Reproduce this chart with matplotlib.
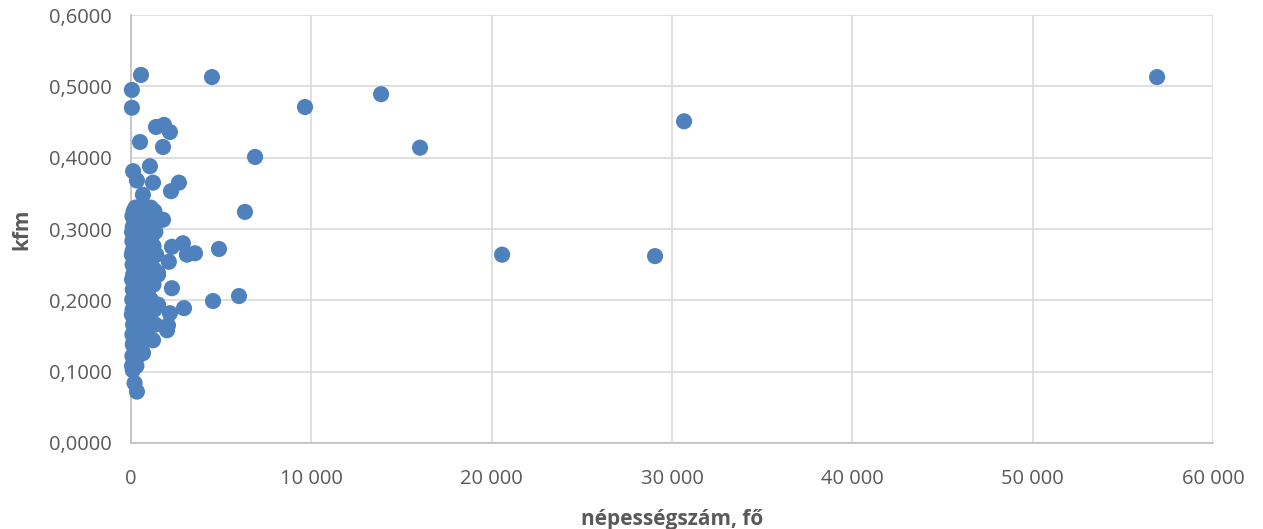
import matplotlib.pyplot as plt
from matplotlib.ticker import FuncFormatter

# népességszám (fő) és kfm értékek
pop = [
    555, 4490, 50, 50, 9650, 13870, 56900, 30670, 16030, 6880,
    500, 1390, 1830, 2160, 1775, 20580, 29060, 6320,
    120, 1050, 2660, 2220, 330, 1220, 660, 1775,
    2270, 2880, 3100, 3550, 4880, 2100, 1500, 2270, 5990, 4550,
    2940, 2160, 2050, 2000, 1220, 665, 100, 330, 200, 150,
    250, 700, 1100,
    150, 450, 900, 1300,
    80, 350, 600, 1000,
    200, 500, 800, 1200, 1450,
    100, 400, 700, 1050,
    60, 300, 550, 900, 1350,
    150, 450, 750, 1150,
    80, 350, 650, 1000,
    200, 500, 850, 1250,
    100, 400, 700,
    50, 300, 600, 950, 1400,
    180, 480, 800, 1150,
    90, 380, 680,
    250, 550, 900, 1300,
    120, 420, 750, 1500,
    60, 330, 620, 1000,
    200, 480, 850, 1250,
    100, 400, 700,
    280, 580, 950,
    70, 350, 650, 1100,
    180, 470, 800, 1500,
    90, 380, 700, 1300,
    50, 300, 600, 1000,
    200, 500, 850,
    120, 420, 750, 1350,
    300, 600,
    80, 400, 900,
    200, 500,
    100, 350,
    250, 600,
    80, 400,
    200,
    60, 300,
]

kfm = [
    0.516, 0.513, 0.495, 0.470, 0.471, 0.489, 0.513, 0.451, 0.414, 0.401,
    0.422, 0.443, 0.446, 0.436, 0.415, 0.264, 0.262, 0.324,
    0.381, 0.388, 0.365, 0.353, 0.368, 0.365, 0.348, 0.313,
    0.275, 0.280, 0.264, 0.266, 0.272, 0.254, 0.238, 0.217, 0.206, 0.199,
    0.189, 0.182, 0.165, 0.158, 0.144, 0.126, 0.102, 0.072, 0.084, 0.142,
    0.330, 0.330, 0.330,
    0.325, 0.325, 0.325, 0.325,
    0.318, 0.318, 0.318, 0.318,
    0.310, 0.310, 0.310, 0.310, 0.310,
    0.303, 0.303, 0.303, 0.303,
    0.296, 0.296, 0.296, 0.296, 0.296,
    0.290, 0.290, 0.290, 0.290,
    0.283, 0.283, 0.283, 0.283,
    0.276, 0.276, 0.276, 0.276,
    0.270, 0.270, 0.270,
    0.264, 0.264, 0.264, 0.264, 0.264,
    0.257, 0.257, 0.257, 0.257,
    0.250, 0.250, 0.250,
    0.243, 0.243, 0.243, 0.243,
    0.236, 0.236, 0.236, 0.236,
    0.229, 0.229, 0.229, 0.229,
    0.222, 0.222, 0.222, 0.222,
    0.215, 0.215, 0.215,
    0.208, 0.208, 0.208,
    0.201, 0.201, 0.201, 0.201,
    0.194, 0.194, 0.194, 0.194,
    0.187, 0.187, 0.187, 0.187,
    0.180, 0.180, 0.180, 0.180,
    0.173, 0.173, 0.173,
    0.166, 0.166, 0.166, 0.166,
    0.159, 0.159,
    0.152, 0.152, 0.152,
    0.145, 0.145,
    0.138, 0.138,
    0.130, 0.130,
    0.122, 0.122,
    0.115,
    0.108, 0.108,
]

x_ticks = [0, 10000, 20000, 30000, 40000, 50000, 60000]
y_ticks = [0.0, 0.1, 0.2, 0.3, 0.4, 0.5, 0.6]

grey = '#595959'
plt.rcParams['font.family'] = ['Open Sans', 'DejaVu Sans']

fig = plt.figure(figsize=(12.63, 5.29), dpi=100)
ax = fig.add_axes([0.1037, 0.1626, 0.8567, 0.809])

ax.scatter(pop, kfm, s=135, color='#4F81BD', edgecolors='none', zorder=3, clip_on=False)

ax.set_xlim(0, 60000)
ax.set_ylim(0, 0.6)
ax.set_xticks(x_ticks)
ax.set_yticks(y_ticks)
ax.xaxis.set_major_formatter(FuncFormatter(lambda v, p: f'{int(v):,}'.replace(',', ' ')))
ax.yaxis.set_major_formatter(FuncFormatter(lambda v, p: f'{v:.4f}'.replace('.', ',')))
ax.tick_params(length=0, labelsize=14.5, labelcolor=grey)
ax.tick_params(axis='x', pad=19)
ax.tick_params(axis='y', pad=14)

ax.grid(True, color='#D9D9D9', linewidth=1.2, zorder=0)
for side in ['top', 'right']:
    ax.spines[side].set_visible(False)
for side in ['left', 'bottom']:
    ax.spines[side].set_color('#BFBFBF')
    ax.spines[side].set_linewidth(1.2)

ax.set_xlabel('népességszám, fő', fontsize=15, fontweight='bold', color=grey, labelpad=14)
ax.set_ylabel('kfm', fontsize=15, fontweight='bold', color=grey, labelpad=12)

fig.savefig('out.png', dpi=100)
